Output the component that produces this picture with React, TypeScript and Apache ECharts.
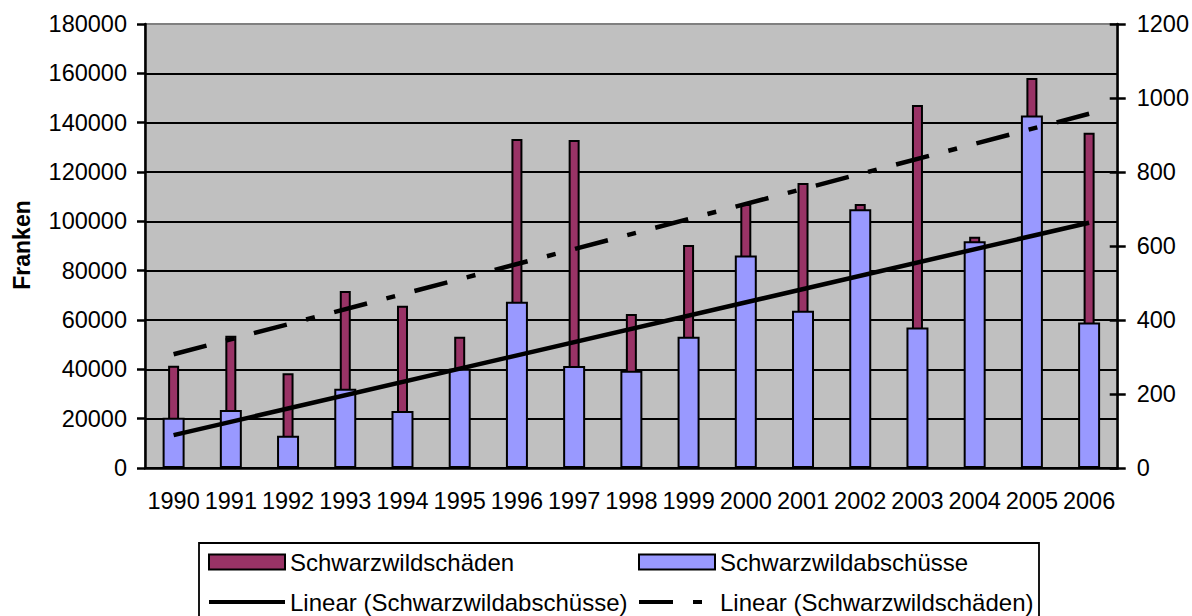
import React, { useEffect, useRef } from "react";
import * as echarts from "echarts";

const years = ["1990", "1991", "1992", "1993", "1994", "1995", "1996", "1997", "1998", "1999", "2000", "2001", "2002", "2003", "2004", "2005", "2006"];
const schaeden = [41500, 53600, 38400, 71800, 65800, 53200, 133400, 133000, 62400, 90400, 107000, 115500, 107000, 147200, 93800, 158100, 135900];
const abschuesse = [136, 157, 87, 214, 154, 268, 449, 276, 263, 355, 574, 425, 699, 380, 613, 953, 393];
const trendAbschuesseEnds = [89, 663];
const trendSchaedenEnds = [46100, 143600];
const leftTicks = { min: 0, max: 180000, interval: 20000 };
const rightTicks = { min: 0, max: 1200, interval: 200 };

const FONT = "'Liberation Sans', Arial, sans-serif";
const DASH = [34, 20, 9, 20];

export default function App() {
  const ref = useRef<HTMLDivElement>(null);
  useEffect(() => {
    if (!ref.current) return;
    const chart = echarts.init(ref.current, undefined, { renderer: "svg" });
    const last = years.length - 1;
    const legendText = { color: "#000", fontSize: 24, fontFamily: FONT, lineHeight: 24 };
    const plain = (v: number) => String(v);
    const hiddenSymbol = { opacity: 0, color: "rgba(0,0,0,0)", borderWidth: 0 };
    chart.setOption({
      animation: false,
      textStyle: { fontFamily: FONT },
      grid: {
        left: 145,
        top: 24,
        right: 73,
        bottom: 148,
        show: true,
        backgroundColor: "#C0C0C0",
        borderColor: "#808080",
        borderWidth: 2,
      },
      legend: [
        {
          data: [
            { name: "Schwarzwildschäden", icon: "rect" },
            {
              name: "Linear (Schwarzwildabschüsse)",
              itemStyle: hiddenSymbol,
              lineStyle: { color: "#000", width: 4, type: "solid", cap: "butt" },
            },
          ],
          orient: "vertical",
          left: 207,
          top: 550,
          padding: 0,
          itemWidth: 76,
          itemHeight: 15,
          itemGap: 16,
          selectedMode: false,
          textStyle: legendText,
        },
        {
          data: [
            { name: "Schwarzwildabschüsse", icon: "rect" },
            {
              name: "Linear (Schwarzwildschäden)",
              itemStyle: hiddenSymbol,
              lineStyle: { color: "#000", width: 4, type: DASH, cap: "butt" },
            },
          ],
          orient: "vertical",
          left: 637,
          top: 550,
          padding: 0,
          itemWidth: 76,
          itemHeight: 15,
          itemGap: 16,
          selectedMode: false,
          textStyle: legendText,
        },
      ],
      xAxis: [
        {
          type: "category",
          data: years,
          position: "bottom",
          axisLine: { lineStyle: { color: "#000", width: 2.5 } },
          axisTick: { length: 8, lineStyle: { color: "#000", width: 2.5 } },
          axisLabel: { interval: 0, color: "#000", fontSize: 23.5, fontFamily: FONT, margin: 21 },
          splitLine: { show: false },
        },
        {
          type: "category",
          data: years,
          show: false,
        },
      ],
      yAxis: [
        {
          type: "value",
          position: "left",
          ...leftTicks,
          axisLine: { show: true, lineStyle: { color: "#000", width: 2.5 } },
          axisTick: { show: true, length: 8, lineStyle: { color: "#000", width: 2.5 } },
          axisLabel: { color: "#000", fontSize: 23.5, fontFamily: FONT, margin: 18, formatter: plain },
          splitLine: { show: true, showMaxLine: false, lineStyle: { color: "#000", width: 2 } },
        },
        {
          type: "value",
          position: "right",
          ...rightTicks,
          axisLine: { show: true, lineStyle: { color: "#000", width: 2.5 } },
          axisTick: { show: true, length: 8, lineStyle: { color: "#000", width: 2.5 } },
          axisLabel: { color: "#000", fontSize: 23.5, fontFamily: FONT, margin: 19, formatter: plain },
          splitLine: { show: false },
        },
        {
          type: "value",
          position: "right",
          ...rightTicks,
          axisLine: { show: false },
          axisTick: { show: true, inside: true, length: 8, lineStyle: { color: "#000", width: 2.5 } },
          axisLabel: { show: false },
          splitLine: { show: false },
        },
      ],
      series: [
        {
          name: "Schwarzwildschäden",
          type: "bar",
          xAxisIndex: 0,
          yAxisIndex: 0,
          data: schaeden,
          barWidth: 11,
          itemStyle: { color: "#993366", borderColor: "#000", borderWidth: 2 },
        },
        {
          name: "Schwarzwildabschüsse",
          type: "bar",
          xAxisIndex: 1,
          yAxisIndex: 1,
          data: abschuesse,
          barWidth: 22,
          itemStyle: { color: "#9999FF", borderColor: "#000", borderWidth: 2 },
        },
        {
          name: "Linear (Schwarzwildabschüsse)",
          type: "line",
          xAxisIndex: 0,
          yAxisIndex: 1,
          symbol: "none",
          data: [
            [years[0], trendAbschuesseEnds[0]],
            [years[last], trendAbschuesseEnds[1]],
          ],
          lineStyle: { color: "#000", width: 4.5, cap: "butt" },
          itemStyle: { color: "#000" },
        },
        {
          name: "Linear (Schwarzwildschäden)",
          type: "line",
          xAxisIndex: 0,
          yAxisIndex: 0,
          symbol: "none",
          data: [
            [years[0], trendSchaedenEnds[0]],
            [years[last], trendSchaedenEnds[1]],
          ],
          lineStyle: { color: "#000", width: 4.5, type: DASH, cap: "butt" },
          itemStyle: { color: "#000" },
        },
      ],
      graphic: [
        {
          type: "rect",
          z: -1,
          shape: { x: 199, y: 543, width: 840, height: 90 },
          style: { fill: "#fff", stroke: "#000", lineWidth: 1.8 },
        },
        {
          type: "text",
          x: 22,
          y: 245,
          rotation: Math.PI / 2,
          style: {
            text: "Franken",
            fontFamily: FONT,
            fontSize: 23,
            fontWeight: "bold",
            fill: "#000",
            align: "center",
            verticalAlign: "middle",
          },
        },
      ],
    });
    return () => chart.dispose();
  }, []);
  return (
    <div
      ref={ref}
      style={{ position: "fixed", left: 0, top: 0, width: 1192, height: 616, background: "#fff" }}
    />
  );
}
